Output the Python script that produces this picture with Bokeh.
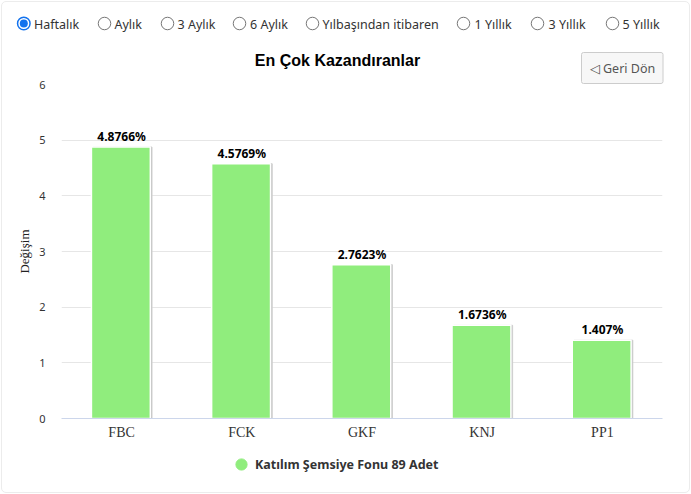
from bokeh.embed import file_html
from bokeh.layouts import column
from bokeh.resources import INLINE
from bokeh.plotting import figure
from bokeh.models import (BoxAnnotation, ColumnDataSource, LabelSet, Legend,
                          LegendItem, FixedTicker, Range1d)
from bokeh.core.properties import value
from bokeh.transform import dodge

categories = ["FBC", "FCK", "GKF", "KNJ", "PP1"]
values = [4.8766, 4.5769, 2.7623, 1.6736, 1.407]
y_ticks = [0, 1, 2, 3, 4, 5, 6]
periods = ["Haftalık", "Aylık", "3 Aylık", "6 Aylık", "Yılbaşından itibaren", "1 Yıllık", "3 Yıllık", "5 Yıllık"]
title_text = "En Çok Kazandıranlar"
series_name = "Katılım Şemsiye Fonu 89 Adet"
y_title = "Değişim"
button_text = "◁ Geri Dön"

UI = "Noto Sans"
GREEN = "#90ed7d"
BLUE = "#1272ee"

W, H = 691, 494
HEAD, FOOT = 84, 445   # page rows where the chart overlaps the header and where the footer begins
L, R = 61, 662
OVERLAP = 8


def blank(h, y0, y1):
    f = figure(width=W, height=h, x_range=Range1d(0, W), y_range=Range1d(y0, y1),
               output_backend="svg", toolbar_location=None,
               x_axis_location=None, y_axis_location=None,
               min_border=0, outline_line_color=None,
               border_fill_alpha=0, background_fill_alpha=0, frame_align=False)
    f.grid.visible = False
    return f


# ---------- header: radio row, title, back button ----------
head = blank(HEAD, HEAD, 0)
radio_x = [23.3, 104, 167, 239, 312, 463, 537, 612]
label_x = [33.5, 114, 177, 249.5, 322, 474, 548, 622]
radio_y = [23] * len(periods)
head.scatter(radio_x[1:], radio_y[1:], size=12.5, marker="circle", fill_color="white",
             line_color="#767676", line_width=1)
head.scatter(radio_x[:1], radio_y[:1], size=12.5, marker="circle", fill_color="white",
             line_color=BLUE, line_width=1.5)
head.scatter(radio_x[:1], radio_y[:1], size=8, marker="circle", fill_color=BLUE, line_color=BLUE,
             line_width=0)
head.text(label_x, [24] * len(periods), periods, text_font=value(UI), text_font_size="12.5px",
          text_color="#333333", text_baseline="middle")
head.text([337], [60], [title_text], text_font=value("Liberation Sans"), text_font_size="16px",
          text_font_style="bold", text_color="#000000", text_align="center", text_baseline="middle")
head.add_layout(BoxAnnotation(left=581, right=662.5, top=52, bottom=83, fill_color="#f7f7f7",
                              fill_alpha=1, line_color="#cccccc", line_alpha=1, line_width=1,
                              border_radius=2, level="underlay", editable=False))
head.text([622], [67.5], [button_text], text_font=value(UI), text_font_size="12.5px",
          text_color="#555555", text_align="center", text_baseline="middle")

# ---------- chart ----------
p = figure(width=W, height=FOOT - HEAD + OVERLAP, x_range=categories, y_range=(0, 6),
           output_backend="svg", toolbar_location=None,
           min_border_left=L, min_border_right=W - R,
           min_border_top=OVERLAP, min_border_bottom=27,
           outline_line_color=None, background_fill_color="white",
           border_fill_alpha=0, frame_align=False)
p.margin = (-OVERLAP, 0, 0, 0)

p.xgrid.visible = False
p.ygrid.grid_line_color = "#e6e6e6"
p.yaxis.ticker = FixedTicker(ticks=y_ticks)
p.yaxis.axis_line_color = None
p.yaxis.major_tick_line_color = None
p.yaxis.minor_tick_line_color = None
p.yaxis.major_label_standoff = 10
p.yaxis.major_label_text_font = UI
p.yaxis.major_label_text_font_size = "11px"
p.yaxis.major_label_text_color = "#333333"
p.yaxis.axis_label = y_title
p.yaxis.axis_label_text_font = "Liberation Serif"
p.yaxis.axis_label_text_font_size = "13px"
p.yaxis.axis_label_text_font_style = "normal"
p.yaxis.axis_label_text_color = "#222222"
p.yaxis.axis_label_standoff = 4

p.xaxis.axis_line_color = "#ccd6eb"
p.xaxis.major_tick_line_color = None
p.xaxis.minor_tick_line_color = None
p.xaxis.major_label_standoff = 0
p.xaxis.major_label_text_font = "Liberation Serif"
p.xaxis.major_label_text_font_size = "14px"
p.xaxis.major_label_text_color = "#333333"

src = ColumnDataSource(dict(cat=categories, val=values, txt=[f"{v}%" for v in values]))
p.vbar(x=dodge("cat", 0.008, range=p.x_range), top="val", width=0.49, source=src,
       fill_color="#bdbdbd", line_color="#cfcfcf", line_width=1)
p.vbar(x=dodge("cat", -0.006, range=p.x_range), top="val", width=0.49, source=src,
       fill_color=GREEN, line_color="white", line_width=1.5)
p.add_layout(LabelSet(x="cat", y="val", text="txt", source=src, text_align="center",
                      text_baseline="bottom", y_offset=2, text_font=value(UI),
                      text_font_size="12px", text_font_style="bold", text_color="#000000"))

# ---------- footer: legend ----------
foot = blank(H - FOOT, H, FOOT)
dot = foot.scatter([float("nan")], [float("nan")], size=11, marker="circle",
                   fill_color=GREEN, line_color=GREEN)
legend = Legend(items=[LegendItem(label=series_name, renderers=[dot])],
                location=(227, 16), border_line_color=None, background_fill_alpha=0,
                label_text_font=UI, label_text_font_size="12.5px",
                label_text_font_style="bold", label_text_color="#333333",
                glyph_width=28, glyph_height=28, padding=0, margin=0, label_standoff=0)
foot.add_layout(legend, "center")

page = column(head, p, foot, spacing=0,
              styles={"outline": "1px solid #ececec", "outline-offset": "-2px", "border-radius": "6px"})

open("out.html", "w").write(file_html(page, INLINE))
